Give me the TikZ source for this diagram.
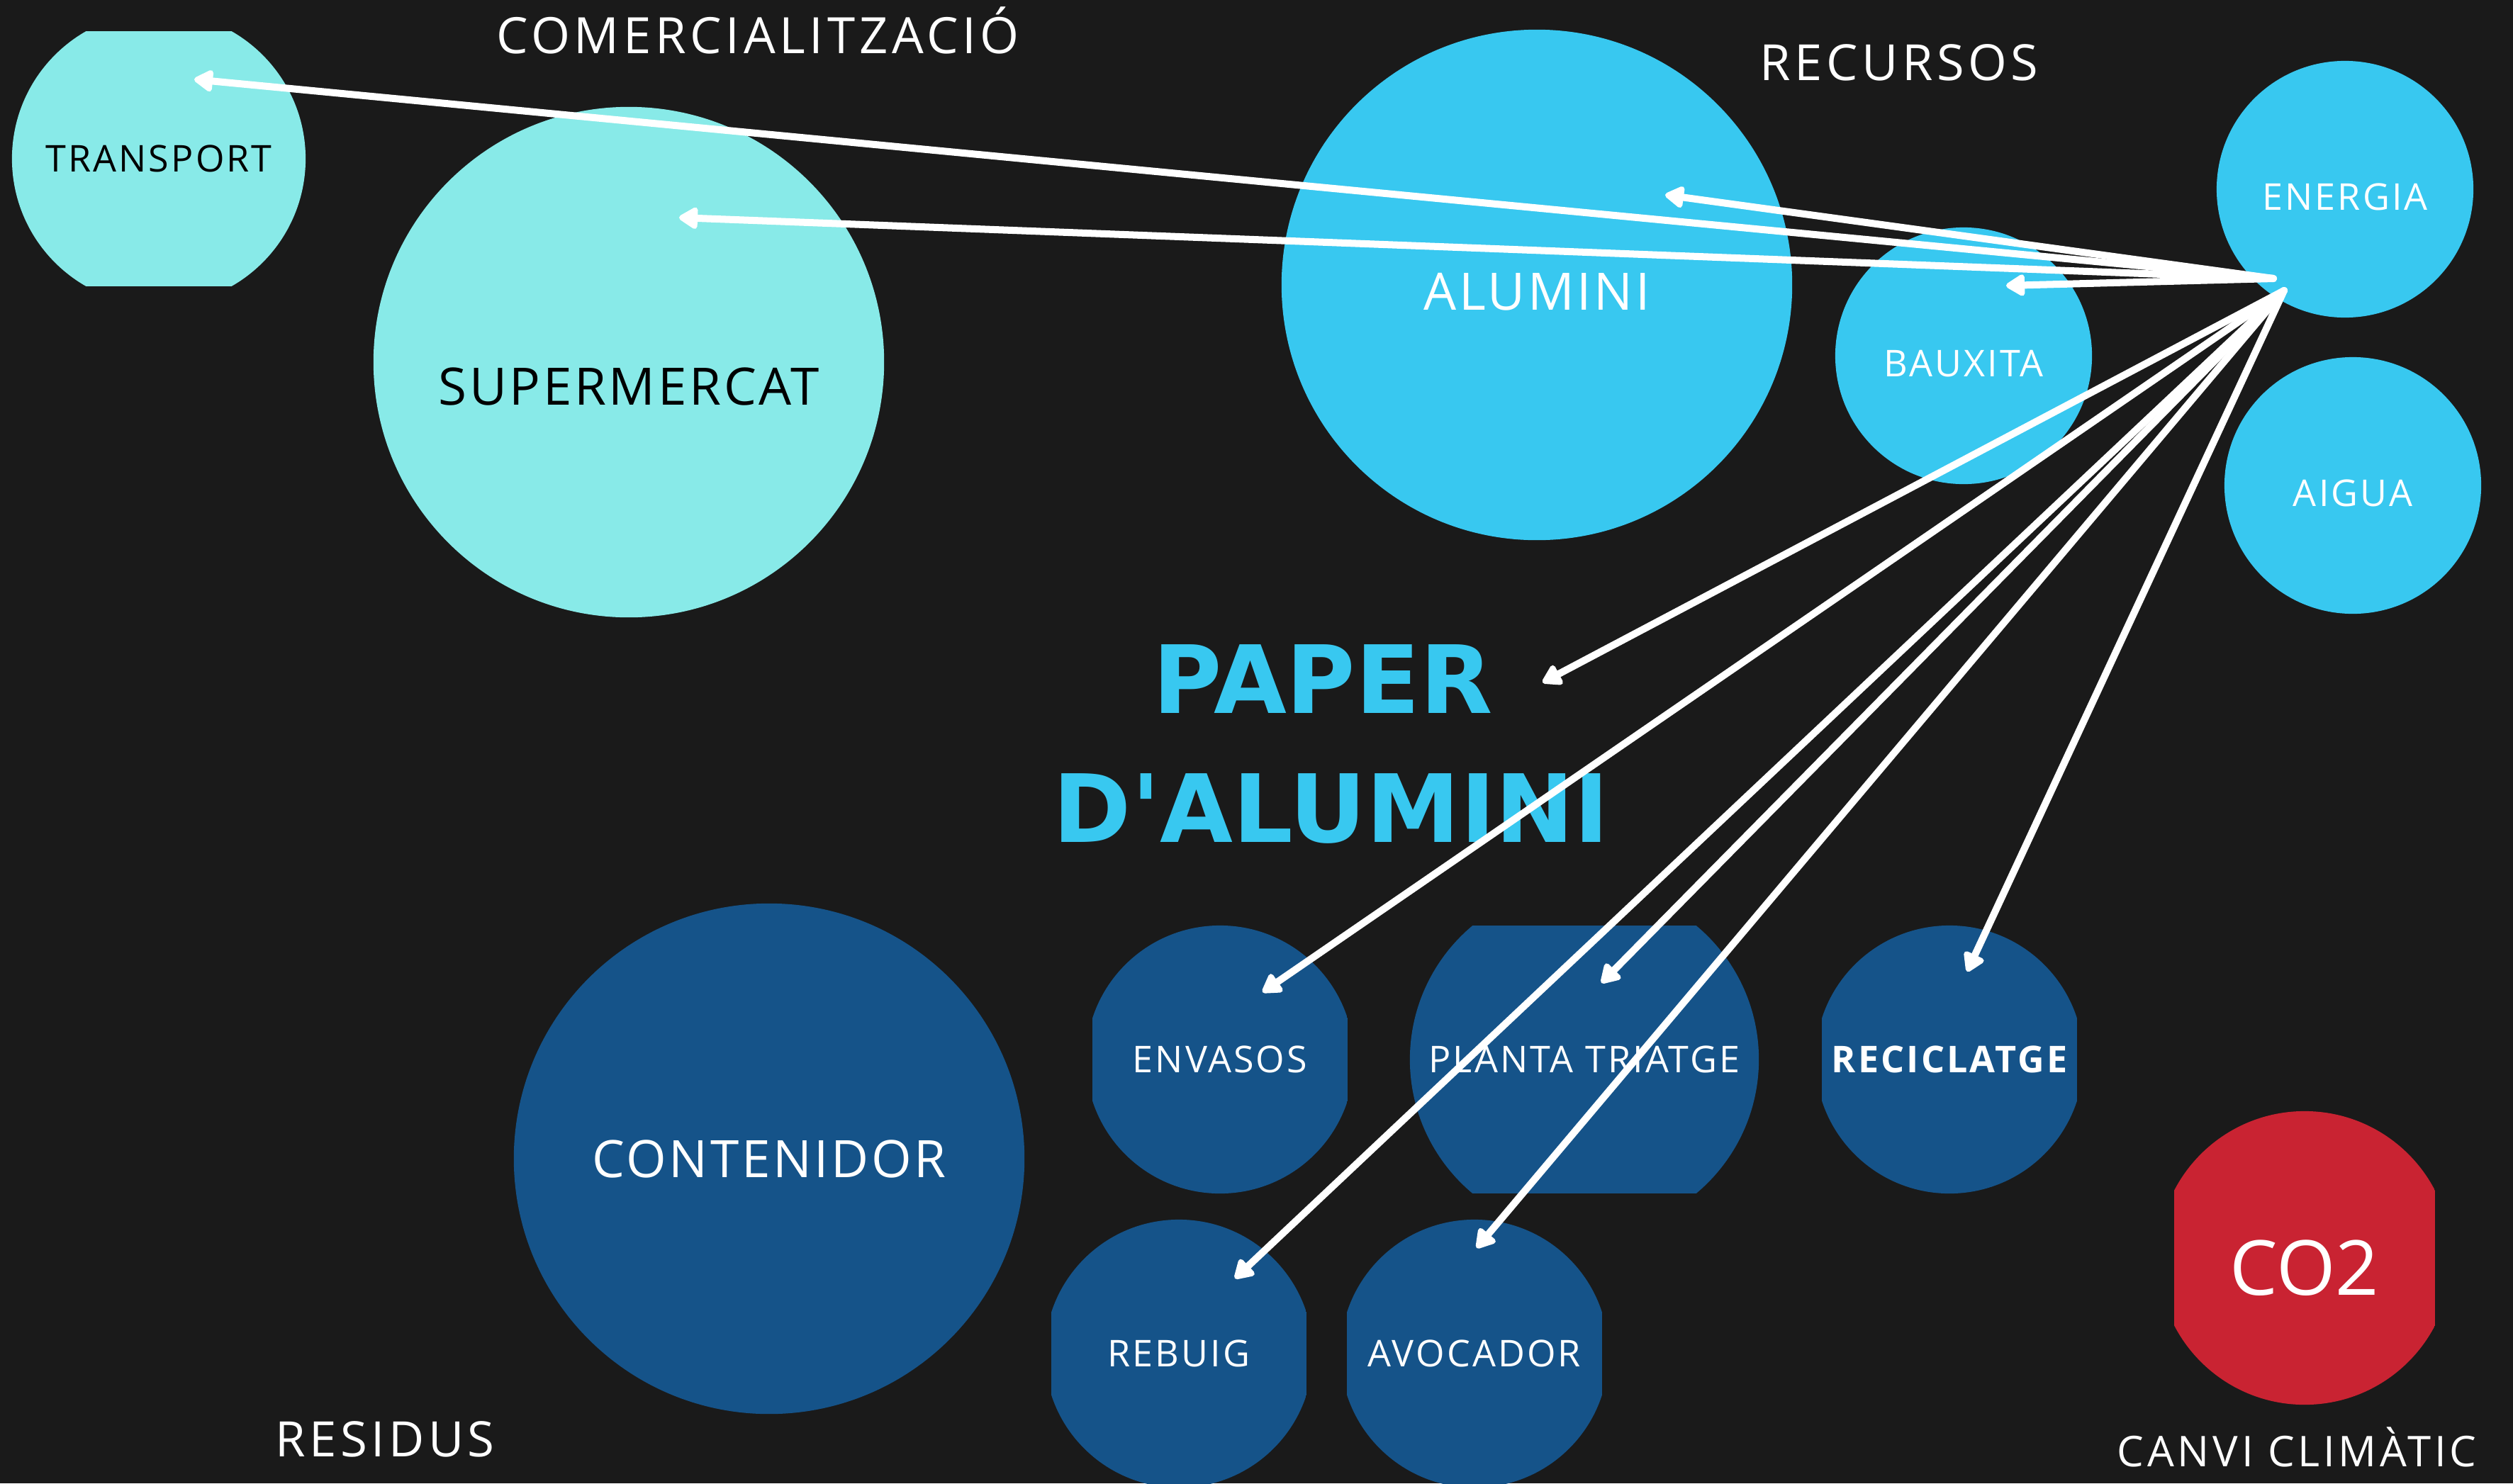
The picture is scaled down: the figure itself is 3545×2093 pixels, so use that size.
\documentclass[tikz,border=0pt]{standalone}
\usepackage{fontspec}
\setmainfont{Open Sans}
\newfontfamily\titlefont{DejaVu Sans}
\usetikzlibrary{arrows.meta}
\definecolor{fons}{HTML}{1A1A1A}
\definecolor{aqua}{HTML}{88EAE8}
\definecolor{cel}{HTML}{38C8F0}
\definecolor{blau}{HTML}{155389}
\definecolor{vermell}{HTML}{C92332}
\tikzset{
  bombolla/.style={circle, inner sep=0pt, minimum size=#1cm, text=white},
  tall/.style n args={3}{path picture={\fill[#1] ([shift={(-#2,-#3)}]path picture bounding box.center) rectangle ([shift={(#2,#3)}]path picture bounding box.center);}},
  baixa/.style={text height=#1, text depth=0pt},
  petit/.style={font=\fontsize{14.8}{17}\selectfont\addfontfeature{LetterSpace=6}},
  mitja/.style={font=\fontsize{20.7}{24}\selectfont\addfontfeature{LetterSpace=5}},
  rotul/.style={font=\fontsize{#1}{22}\selectfont\addfontfeature{LetterSpace=8}, text=white, anchor=base},
  flux/.style={draw=white, line width=2.85pt, line cap=round, -{Triangle[round,length=8.5pt,width=9.7pt]}},
}
\begin{document}
\begin{tikzpicture}[x=0.01cm, y=-0.01cm]
  \fill[fons] (0,0) rectangle (3545,2093);
  \useasboundingbox (0,0) rectangle (3545,2093);
  % comercialitzacio
  \node[bombolla=4.14, tall={aqua}{250}{180}, text=black, petit] (transport) at (224,224) {TRANSPORT};
  \node[bombolla=7.2, fill=aqua, label={[mitja, text=black, yshift=-0.34cm]center:SUPERMERCAT}] (supermercat) at (887,511) {};
  % recursos
  \node[bombolla=7.2, fill=cel, mitja, baixa=20pt] (alumini) at (2168,402) {ALUMINI};
  \node[bombolla=3.62, fill=cel, petit, baixa=16.8pt] (bauxita) at (2770,502) {BAUXITA};
  \node[bombolla=3.62, fill=cel, petit, baixa=16.8pt] (energia) at (3308,267) {ENERGIA};
  \node[bombolla=3.62, fill=cel, petit, baixa=16.8pt] (aigua) at (3319,685) {AIGUA};
  % residus
  \node[bombolla=7.2, fill=blau, mitja] (contenidor) at (1085,1635) {CONTENIDOR};
  \node[bombolla=3.78, tall={blau}{180}{250}, petit] (envasos) at (1721,1495) {ENVASOS};
  \node[bombolla=4.92, tall={blau}{300}{189}, petit] (planta) at (2235,1495) {PLANTA TRIATGE};
  \node[bombolla=3.78, tall={blau}{180}{250}, petit] (reciclatge) at (2750,1495) {\bfseries RECICLATGE};
  \node[bombolla=3.78, tall={blau}{180}{250}, petit] (rebuig) at (1663,1910) {REBUIG};
  \node[bombolla=3.78, tall={blau}{180}{250}, petit] (avocador) at (2080,1910) {AVOCADOR};
  \node[bombolla=4.14, tall={vermell}{184}{250}, font=\fontsize{30.5}{34}\selectfont, baixa=30pt] (co2) at (3251,1775) {CO2};
  % titols
  \node[text=cel, font=\titlefont\bfseries\fontsize{37.8}{45}\selectfont] (paper) at (1866,958) {PAPER};
  \node[text=cel, font=\titlefont\bfseries\fontsize{37.8}{45}\selectfont] (dalumini) at (1878,1141) {D\textquotesingle ALUMINI};
  \node[rotul=20.1] (comercial) at (1069,75) {COMERCIALITZACIÓ};
  \node[rotul=20] (recursos) at (2679,113) {RECURSOS};
  \node[rotul=19.6] (residus) at (543,2055) {RESIDUS};
  \node[rotul=17] (canvi) at (3240,2069) {CANVI CLIMÀTIC};
  % fletxes
  \path (3207,393)coordinate(hubL) (3222,410)coordinate(hubD)
    (274,112)coordinate(t-transport) (958,307)coordinate(t-supermercat)
    (2349,275)coordinate(t-alumini) (2830,403)coordinate(t-bauxita)
    (2176,963)coordinate(t-paper) (1781,1400)coordinate(t-envasos)
    (2259,1387)coordinate(t-planta) (1742,1804)coordinate(t-rebuig)
    (2083,1761)coordinate(t-avocador) (2775,1371)coordinate(t-reciclatge);
  \foreach \a/\b in {hubL/t-transport, hubL/t-supermercat, hubL/t-alumini, hubL/t-bauxita,
    hubD/t-paper, hubD/t-envasos, hubD/t-planta, hubD/t-rebuig, hubD/t-avocador, hubD/t-reciclatge}
    \draw[flux] (\a) -- (\b);
\end{tikzpicture}
\end{document}
